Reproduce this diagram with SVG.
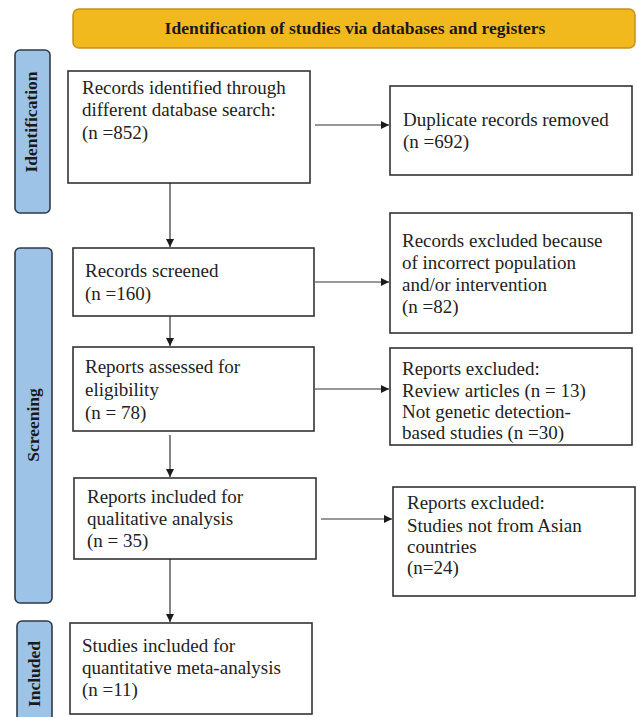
<svg xmlns="http://www.w3.org/2000/svg" width="637" height="717" viewBox="0 0 637 717">
<defs>
<marker id="ah" viewBox="0 0 10 10" refX="10" refY="5" markerWidth="8" markerHeight="8" markerUnits="userSpaceOnUse" orient="auto">
<path d="M0,0 L10,5 L0,10 z" fill="#1a1a1a"/>
</marker>
<style>
.box{fill:#fff;stroke:#333;stroke-width:1.6}
.tab{fill:#9DC3E6;stroke:#2f3a48;stroke-width:1.6}
.t{font-family:"Liberation Serif","Times New Roman",serif;font-size:19px;fill:#222}
.tt{font-family:"Liberation Serif","Times New Roman",serif;font-size:17.5px;font-weight:bold;fill:#1a1a1a;text-anchor:middle}
.c{fill:none;stroke:#333;stroke-width:1.2;marker-end:url(#ah)}
</style>
</defs>
<rect width="637" height="717" fill="#fff"/>
<g id="header">
<rect x="73" y="9" width="562" height="39" rx="6" fill="#F1B91E" stroke="#C4921A" stroke-width="1.5"/>
<text class="tt" x="355" y="34">Identification of studies via databases and registers</text>
</g>
<g id="tab-identification">
<rect class="tab" x="15" y="50" width="35" height="163" rx="5"/>
<text class="tt" transform="translate(37,122) rotate(-90)">Identification</text>
</g>
<g id="tab-screening">
<rect class="tab" x="15" y="248" width="37" height="355" rx="5"/>
<text class="tt" transform="translate(39,425) rotate(-90)">Screening</text>
</g>
<g id="tab-included">
<rect class="tab" x="17" y="621" width="35" height="110" rx="5"/>
<text class="tt" transform="translate(40,674) rotate(-90)">Included</text>
</g>
<g id="records-identified">
<rect class="box" x="68" y="71" width="242" height="112"/>
<text class="t" x="82" y="94">Records identified through</text>
<text class="t" x="82" y="116">different database search:</text>
<text class="t" x="82" y="139">(n =852)</text>
</g>
<g id="duplicates">
<rect class="box" x="390" y="86" width="242" height="89"/>
<text class="t" x="403" y="126">Duplicate records removed</text>
<text class="t" x="403" y="148">(n =692)</text>
</g>
<g id="records-screened">
<rect class="box" x="73" y="248" width="241" height="68"/>
<text class="t" x="85" y="277">Records screened</text>
<text class="t" x="85" y="300">(n =160)</text>
</g>
<g id="records-excluded">
<rect class="box" x="390" y="213" width="242" height="120"/>
<text class="t" x="402" y="247">Records excluded because</text>
<text class="t" x="402" y="269">of incorrect population</text>
<text class="t" x="402" y="291">and/or intervention</text>
<text class="t" x="402" y="313">(n =82)</text>
</g>
<g id="reports-assessed">
<rect class="box" x="73" y="347" width="241" height="84"/>
<text class="t" x="85" y="373">Reports assessed for</text>
<text class="t" x="85" y="396">eligibility</text>
<text class="t" x="85" y="419">(n = 78)</text>
</g>
<g id="reports-excluded-1">
<rect class="box" x="390" y="348" width="242" height="97"/>
<text class="t" x="402" y="375">Reports excluded:</text>
<text class="t" x="402" y="397">Review articles (n = 13)</text>
<text class="t" x="402" y="418">Not genetic detection-</text>
<text class="t" x="402" y="439">based studies (n =30)</text>
</g>
<g id="reports-included">
<rect class="box" x="74" y="478" width="242" height="81"/>
<text class="t" x="87" y="503">Reports included for</text>
<text class="t" x="87" y="525">qualitative analysis</text>
<text class="t" x="87" y="547">(n = 35)</text>
</g>
<g id="reports-excluded-2">
<rect class="box" x="393" y="487" width="242" height="109"/>
<text class="t" x="407" y="509">Reports excluded:</text>
<text class="t" x="407" y="532">Studies not from Asian</text>
<text class="t" x="407" y="553">countries</text>
<text class="t" x="407" y="574">(n=24)</text>
</g>
<g id="studies-included">
<rect class="box" x="70" y="623" width="242" height="91"/>
<text class="t" x="82" y="652">Studies included for</text>
<text class="t" x="82" y="674">quantitative meta-analysis</text>
<text class="t" x="82" y="696">(n =11)</text>
</g>
<g id="connectors">
<path class="c" d="M315,125 H389"/>
<path class="c" d="M170,183 V247"/>
<path class="c" d="M315,282 H389"/>
<path class="c" d="M170,316 V346"/>
<path class="c" d="M315,389 H389"/>
<path class="c" d="M170,435 V477"/>
<path class="c" d="M321,519 H392"/>
<path class="c" d="M170,559 V622"/>
</g>
</svg>
